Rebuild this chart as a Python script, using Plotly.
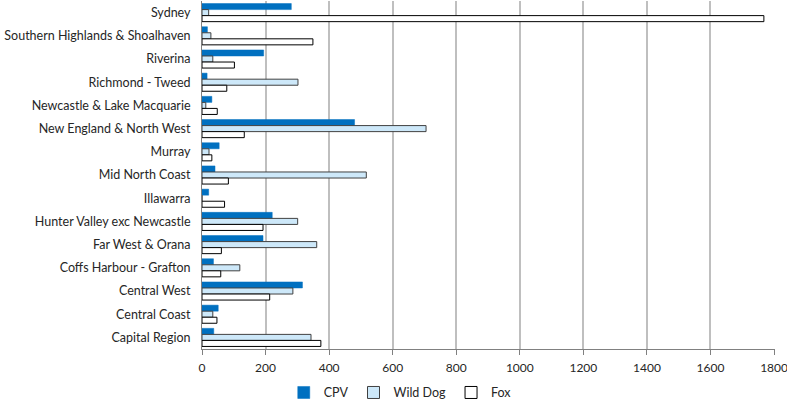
import plotly.graph_objects as go

regions = ["Sydney", "Southern Highlands & Shoalhaven", "Riverina", "Richmond - Tweed",
           "Newcastle & Lake Macquarie", "New England & North West", "Murray",
           "Mid North Coast", "Illawarra", "Hunter Valley exc Newcastle",
           "Far West & Orana", "Coffs Harbour - Grafton", "Central West",
           "Central Coast", "Capital Region"]
cpv = [281, 17, 194, 16, 31, 480, 54, 41, 21, 221, 192, 36, 316, 51, 37]
wild_dog = [21, 28, 34, 302, 12, 705, 22, 517, 0, 301, 361, 119, 286, 34, 343]
fox = [1768, 349, 102, 78, 48, 133, 31, 83, 71, 192, 61, 59, 213, 47, 374]
x_ticks = [0, 200, 400, 600, 800, 1000, 1200, 1400, 1600, 1800]

fig = go.Figure()
fig.add_trace(go.Bar(name="CPV", y=regions, x=cpv, orientation="h",
                     marker=dict(color="#0070C0", line=dict(color="#0070C0", width=0.5))))
fig.add_trace(go.Bar(name="Wild Dog", y=regions, x=wild_dog, orientation="h",
                     marker=dict(color="#CDE8F9", line=dict(color="#404040", width=1))))
fig.add_trace(go.Bar(name="Fox", y=regions, x=fox, orientation="h",
                     marker=dict(color="#FFFFFF", line=dict(color="#000000", width=1))))

fig.update_layout(
    width=787, height=402,
    barmode="group", bargap=0.22, bargroupgap=0,
    plot_bgcolor="white", paper_bgcolor="white",
    margin=dict(l=202, r=12, t=1, b=53, autoexpand=False),
    font=dict(family="Lato, Open Sans, sans-serif", size=12.5, color="#262626"),
    legend=dict(orientation="h", x=0.346, xanchor="center", y=-0.126, yanchor="middle",
                font=dict(size=12.5, color="#262626"), traceorder="normal",
                itemwidth=30),
    showlegend=True,
)
fig.update_xaxes(range=[0, 1803], tickvals=x_ticks, showgrid=True, gridcolor="#BFBFBF",
                 gridwidth=1.5, showline=True, linecolor="#808080", linewidth=1,
                 ticks="outside", ticklen=5, tickcolor="#808080", zeroline=False,
                 automargin=False, ticklabelstandoff=3, ticklabeloverflow="allow",
                 tickfont=dict(size=12, color="#262626"))
fig.update_yaxes(categoryorder="array", categoryarray=regions, autorange="reversed",
                 showline=True, linecolor="#808080", linewidth=1, ticks="",
                 showgrid=False, automargin=False,
                 tickfont=dict(size=12.5, color="#262626"), ticklabelstandoff=8)

fig.write_html("out.html", config={"displayModeBar": False},
               post_script="document.body.style.margin='0';")
